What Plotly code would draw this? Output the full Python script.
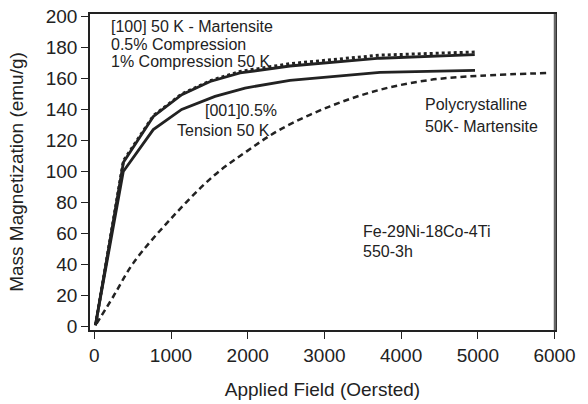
import plotly.graph_objects as go

# Data
field_comp = [15, 380, 770, 1140, 1510, 1900, 2550, 3725, 4960]
mag_comp_05 = [1, 107, 136, 150, 158.5, 164.5, 169.5, 175, 177]
mag_comp_1 = [1, 106, 135.5, 149.5, 158, 163.5, 168, 173, 175.3]

field_tens = [15, 378, 769, 1139, 1574, 1965, 2551, 3725, 4963]
mag_tens = [1, 100, 127, 140, 148.4, 153.8, 158.7, 163.9, 165.2]

field_poly = [30, 248, 508, 987, 1551, 1987, 2421, 3073, 3725, 4376, 5030, 5943]
mag_poly = [2, 19.5, 41, 69, 97, 113, 127, 142, 152.7, 159, 161.7, 163.5]

x_ticks = [0, 1000, 2000, 3000, 4000, 5000, 6000]
y_ticks = [0, 20, 40, 60, 80, 100, 120, 140, 160, 180, 200]

INK = "#222222"
FONT = "Liberation Sans, Arial, sans-serif"

fig = go.Figure()
fig.add_trace(go.Scatter(x=field_poly, y=mag_poly, mode="lines", line_shape="spline",
                         line=dict(color=INK, width=2.5, dash="6px,4px"),
                         name="Polycrystalline"))
fig.add_trace(go.Scatter(x=field_tens, y=mag_tens, mode="lines",
                         line=dict(color=INK, width=2.8), name="[001] 0.5% Tension"))
fig.add_trace(go.Scatter(x=field_comp, y=mag_comp_05, mode="lines",
                         line=dict(color=INK, width=3, dash="3px,3px"),
                         name="[100] 0.5% Compression"))
fig.add_trace(go.Scatter(x=field_comp, y=mag_comp_1, mode="lines",
                         line=dict(color=INK, width=2.8), name="[100] 1% Compression"))

ann = [
    ("[100] 50 K - Martensite", 109, 26),
    ("0.5% Compression", 109, 44),
    ("1% Compression 50 K", 109, 61),
    ("[001]0.5%", 203, 110),
    ("Tension 50 K", 175, 130),
    ("Polycrystalline", 423, 104),
    ("50K- Martensite", 423, 126),
    ("Fe-29Ni-18Co-4Ti", 361, 231),
    ("550-3h", 361, 251),
]
x0px, xscale = 94.3, 0.0767
y0px, yscale = 326.7, 1.552
for txt, px, py in ann:
    fig.add_annotation(x=(px - x0px) / xscale, y=(y0px - py) / yscale, text=txt,
                       showarrow=False, xanchor="left", yanchor="middle",
                       font=dict(family=FONT, size=16, color=INK))

fig.add_shape(type="line", xref="paper", yref="paper", x0=1, x1=1, y0=0, y1=1,
              line=dict(color="#666666", width=2.5))

fig.update_layout(
    width=588, height=404,
    margin=dict(l=90, r=33, t=14, b=74, autoexpand=False),
    paper_bgcolor="white", plot_bgcolor="white",
    showlegend=False,
    font=dict(family=FONT, size=19, color=INK),
    xaxis=dict(range=[-56, 6006], tickvals=x_ticks, ticks="outside", ticklen=7,
               tickcolor=INK, showgrid=False, zeroline=False, automargin=False,
               ticklabeloverflow="allow",
               showline=True, mirror=True, linecolor=INK, linewidth=1.5,
               title=dict(text="Applied Field (Oersted)", standoff=18,
                          font=dict(size=19))),
    yaxis=dict(range=[-2.1, 201.5], tickvals=y_ticks, ticks="outside", ticklen=7,
               tickcolor=INK, showgrid=False, zeroline=False, automargin=False,
               ticklabeloverflow="allow",
               showline=True, mirror=True, linecolor=INK, linewidth=1.5,
               title=dict(text="Mass Magnetization (emu/g)", standoff=17,
                          font=dict(size=19))),
)

# remove the page's default body margin so the figure fills the window exactly
fig.write_html("out.html",
               config={"displayModeBar": False},
               post_script="document.body.style.margin='0';document.body.style.overflow='hidden';")
